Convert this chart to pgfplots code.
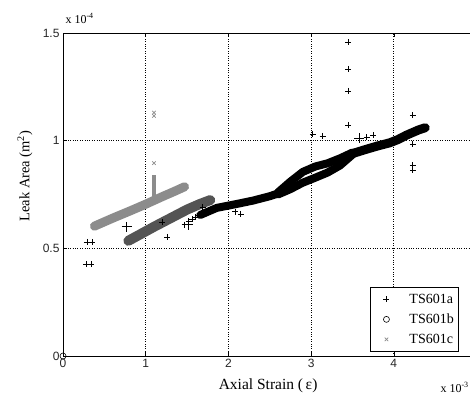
\documentclass[border=0pt]{standalone}
\usepackage{fontspec}
\setmainfont{Liberation Serif}
\newfontfamily\tickfont{Liberation Sans}
\usepackage{pgfplots}
\pgfplotsset{compat=1.18}
\definecolor{cA}{gray}{0}
\definecolor{cB}{gray}{0.33}
\definecolor{cC}{gray}{0.55}
\begin{document}
\begin{tikzpicture}
\begin{axis}[
  at={(63pt,44pt)}, anchor=south west,
  scale only axis, width=413.5pt, height=323pt,
  xmin=0, xmax=5, ymin=0, ymax=1.5,
  xtick={0,1,2,3,4}, xticklabels={0,1,2,3,4},
  ytick={0,0.5,1,1.5}, yticklabels={0,0.5,1,1.5},
  grid=major, major grid style={dotted, black, line width=0.7pt},
  tick align=inside, major tick length=4pt,
  tick style={black, line width=0.6pt},
  ticklabel style={font=\tickfont\fontsize{12}{14}\selectfont, text=black!85},
  x axis line style={black!65, line width=1.3pt},
  y axis line style={black, line width=0.7pt},
  xlabel={Axial Strain (\,ε)},
  ylabel={Leak Area (m\textsuperscript{2})},
  xlabel style={font=\fontsize{15.5}{17}\selectfont, at={(axis description cs:0.496,-0.093)}, anchor=center},
  ylabel style={font=\fontsize{14.5}{17}\selectfont, at={(axis description cs:-0.092,0.557)}, anchor=center},
  legend style={at={(rel axis cs:0.958,0.012)}, anchor=south east,
    draw=black, fill=white, font=\fontsize{14}{16}\selectfont,
    row sep=5pt, inner xsep=3pt, inner ysep=5pt, line width=0.7pt},
  legend image code/.code={\path[draw=none,fill=none] (0pt,0pt) -- (34pt,0pt); \draw[only marks] plot coordinates {(13pt,0pt)};},
  legend cell align=left,
  clip=false,
]
% bands (dense point clouds drawn as thick traces)
\addplot[forget plot, cC, line width=9pt, line cap=round, line join=round] coordinates {
 (0.38,0.603) (0.6,0.640) (0.8,0.672) (1.0,0.705) (1.2,0.740) (1.35,0.765) (1.47,0.786)};
\addplot[forget plot, cB, line width=10pt, line cap=round, line join=round] coordinates {
 (0.79,0.535) (0.9,0.558) (1.1,0.600) (1.3,0.640) (1.5,0.680) (1.65,0.705) (1.78,0.724)};
\addplot[forget plot, cA, line width=8pt, line cap=round, line join=round] coordinates {
 (1.66,0.655) (1.86,0.688) (2.1,0.706) (2.3,0.722) (2.5,0.742) (2.6,0.755)};
\addplot[forget plot, cA, line width=8pt, line cap=round, line join=round] coordinates {
 (2.6,0.76) (2.75,0.81) (2.9,0.855) (3.05,0.88) (3.2,0.895) (3.35,0.918) (3.5,0.945)};
\addplot[forget plot, cA, line width=8pt, line cap=round, line join=round] coordinates {
 (2.6,0.75) (2.75,0.775) (2.9,0.805) (3.05,0.828) (3.2,0.852) (3.35,0.885) (3.5,0.935)};
\addplot[forget plot, cA, line width=9pt, line cap=round, line join=round] coordinates {
 (3.5,0.940) (3.65,0.958) (3.8,0.975) (3.95,0.99) (4.05,1.005) (4.15,1.025) (4.3,1.05) (4.38,1.06)};
% spike of TS601c
\addplot[forget plot, cC, line width=4pt] coordinates {(1.10,0.74) (1.10,0.84)};
% big plus markers
\addplot[forget plot, only marks, mark=+, cA, mark size=5pt, mark options={line width=0.7pt}] coordinates {
 (0.77,0.60) (1.51,0.61) (3.58,1.012)};
% legend series
\addplot[only marks, mark=+, cA, mark size=3pt, mark options={line width=0.7pt}] coordinates {
 (0.29,0.53) (0.35,0.53) (0.28,0.427) (0.34,0.427)
 (1.20,0.62) (1.26,0.553) (1.69,0.69) (1.47,0.61) (1.52,0.625) (1.56,0.635)
 (1.60,0.645) (1.64,0.655) (2.08,0.67) (2.15,0.66)
 (3.45,1.458) (3.45,1.333) (3.45,1.231) (3.45,1.073)
 (3.02,1.031) (3.14,1.022) (3.67,1.017) (3.75,1.026)
 (4.23,1.119) (4.23,0.985) (4.23,0.887) (4.23,0.864)};
\addlegendentry{TS601a}
\addplot[only marks, mark=o, black, mark size=3pt, mark options={line width=0.6pt}] coordinates {(0,0)};
\addlegendentry{TS601b}
\addplot[only marks, mark=x, cC, mark size=2.5pt, mark options={line width=0.7pt}] coordinates {
 (1.10,0.896) (1.10,1.115) (1.10,1.13)};
\addlegendentry{TS601c}
\end{axis}
\node[anchor=base west, font=\fontsize{12}{14}\selectfont] at (62pt,377pt) {x 10\textsuperscript{-4}};
\node[anchor=base west, font=\fontsize{12}{14}\selectfont] at (437pt,8pt) {x 10\textsuperscript{-3}};
\pgfresetboundingbox
\useasboundingbox (0,0) rectangle (470pt,400pt);
\end{tikzpicture}
\end{document}
